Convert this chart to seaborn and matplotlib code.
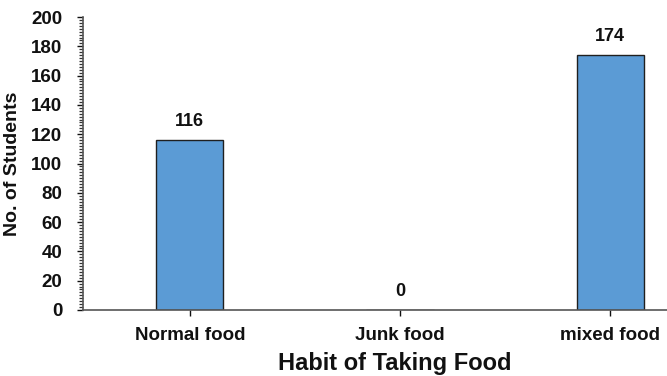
import matplotlib
matplotlib.use("Agg")
import matplotlib.pyplot as plt
import seaborn as sns
import pandas as pd
from matplotlib.ticker import MultipleLocator

categories = ["Normal food", "Junk food", "mixed food"]
students = [116, 0, 174]

df = pd.DataFrame({"habit": categories, "students": students})

sns.set_style("white")
plt.rcParams['font.family'] = ['Liberation Sans', 'DejaVu Sans']
plt.rcParams['font.weight'] = 'bold'

fig = plt.figure(figsize=(6.67, 3.76), dpi=100)
ax = fig.add_axes([83/667, 1 - 310/376, (667 - 83)/667, (310 - 17)/376])

sns.barplot(data=df, x="habit", y="students", color="#5b9bd5", width=0.32,
            edgecolor="#1f1f1f", linewidth=1.0, ax=ax, saturation=1)

for i, v in enumerate(students):
    ax.annotate(str(v), xy=(i, v), xytext=(0, 7), textcoords="offset points",
                ha="center", va="bottom", fontsize=13, fontweight="bold", color="#111111")

ax.set_ylim(0, 200)
ax.set_xlim(-0.508, 2.27)
ax.yaxis.set_major_locator(MultipleLocator(20))
ax.yaxis.set_minor_locator(MultipleLocator(2))
ax.tick_params(axis="y", which="major", direction="out", length=4, width=1, left=True, labelsize=13.5, colors="#111111", pad=11)
ax.tick_params(axis="y", which="minor", direction="out", length=3, width=0.9, left=True, color="#333333")
ax.tick_params(axis="x", which="major", direction="out", length=4, width=1, bottom=True, labelsize=13.5, colors="#111111", pad=8)
for lab in ax.get_yticklabels() + ax.get_xticklabels():
    lab.set_fontweight("bold")

for s in ["top", "right"]:
    ax.spines[s].set_visible(False)
for s in ["left", "bottom"]:
    ax.spines[s].set_visible(True)
    ax.spines[s].set_color("#555555")
    ax.spines[s].set_linewidth(1.2)

ax.set_ylabel("No. of Students", fontsize=14, fontweight="bold", color="#111111", labelpad=7)
ax.set_xlabel("Habit of Taking Food", fontsize=17, fontweight="bold", color="#111111", labelpad=5)
ax.xaxis.set_label_coords((395 - 83) / 584, -0.145)

fig.savefig("out.png", dpi=100)
